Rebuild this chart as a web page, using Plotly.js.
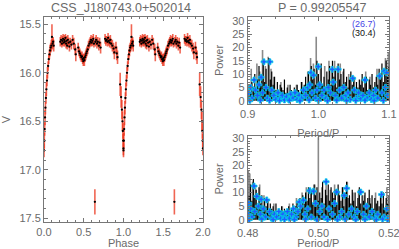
<!DOCTYPE html>
<html><head><meta charset="utf-8">
<script src="https://cdn.plot.ly/plotly-3.0.1.min.js"></script>
<style>html,body{margin:0;padding:0;background:#fff}#c{width:399px;height:249px}</style>
</head><body><div id="c"></div>
<script>
// ---- light curve (phase 0-1), shown twice ----
const lcPhase = [0.000,0.004,0.008,0.013,0.018,0.024,0.030,0.037,0.044,0.052,0.060,0.068,0.076,0.084,0.092,0.100,0.108,0.115,0.122,
 0.205,0.215,0.225,0.232,0.240,0.248,0.255,0.262,0.270,0.278,0.285,0.292,0.300,0.310,0.320,0.330,0.345,0.360,0.375,0.392,0.400,
 0.430,0.440,0.450,0.460,0.470,0.478,0.486,0.494,0.500,0.508,0.516,0.524,0.532,0.540,0.550,0.560,
 0.572,0.582,0.592,0.600,0.610,0.620,0.628,0.640,0.646,0.656,0.666,0.676,0.690,0.700,0.712,
 0.768,0.778,0.788,0.798,0.806,0.815,0.825,0.835,0.845,0.860,0.875,0.885,0.905,0.915,0.925,
 0.958,0.970,0.980,0.987,0.992,0.996,0.999];
const lcMag = [16.80,16.70,16.58,16.46,16.36,16.26,16.17,16.08,16.00,15.93,15.86,15.81,15.77,15.74,15.72,15.63,15.70,15.68,15.72,
 15.68,15.66,15.70,15.67,15.65,15.69,15.66,15.68,15.64,15.70,15.67,15.72,15.66,15.69,15.73,15.68,15.71,15.66,15.70,15.76,15.81,
 15.74,15.78,15.80,15.82,15.84,15.83,15.86,15.88,15.85,15.87,15.84,15.82,15.80,15.78,15.76,15.72,
 15.70,15.68,15.66,15.69,15.67,15.65,15.70,17.33,15.68,15.66,15.70,15.68,15.72,15.69,15.74,
 15.65,15.67,15.66,15.68,15.64,15.67,15.69,15.66,15.70,15.72,15.75,15.79,15.74,15.80,15.84,
 16.12,16.25,16.38,16.50,16.60,16.70,16.78];
const lcErr = [0.07,0.08,0.07,0.08,0.07,0.06,0.07,0.06,0.06,0.05,0.05,0.05,0.06,0.05,0.06,0.13,0.05,0.05,0.06,
 0.05,0.05,0.04,0.05,0.05,0.04,0.05,0.05,0.04,0.05,0.05,0.04,0.05,0.05,0.05,0.04,0.05,0.05,0.06,0.06,0.07,
 0.05,0.05,0.05,0.05,0.05,0.05,0.05,0.05,0.05,0.06,0.05,0.05,0.05,0.05,0.05,0.05,
 0.05,0.05,0.05,0.04,0.05,0.05,0.04,0.13,0.05,0.05,0.05,0.05,0.05,0.05,0.06,
 0.05,0.05,0.04,0.05,0.05,0.05,0.05,0.05,0.05,0.06,0.06,0.07,0.06,0.07,0.07,
 0.12,0.11,0.10,0.10,0.08,0.07,0.07];

// ---- periodogram around P ----
const topX = [0.900,0.902,0.904,0.906,0.908,0.910,0.912,0.914,0.916,0.918,0.920,0.922,0.924,0.926,0.928,0.930,0.932,0.934,0.936,0.938,0.940,
 0.942,0.944,0.946,0.948,0.950,0.952,0.954,0.956,0.958,0.960,0.962,0.964,0.966,0.968,0.970,0.972,0.974,0.976,0.978,0.980,
 0.982,0.984,0.986,0.988,0.990,0.992,0.994,0.996,0.998,1.000,1.002,1.004,1.006,1.008,1.010,1.012,1.014,1.016,1.018,1.020,
 1.022,1.024,1.026,1.028,1.030,1.032,1.034,1.036,1.038,1.040,1.042,1.044,1.046,1.048,1.050,1.052,1.054,1.056,1.058,1.060,
 1.062,1.064,1.066,1.068,1.070,1.072,1.074,1.076,1.078,1.080,1.082,1.084,1.086,1.088,1.090,1.092,1.094,1.096,1.098,1.100];
const topPow = [4,6,3,7,5,10,4,8,13,6,9, 15,7,12,5,16,8,11,6,9,4, 7,3,6,5,4,8,3,5,2,6, 4,3,5,2,6,4,3,7,5,6,
 9,5,11,7,13,8,12,6,15,10, 7,14,6,9,5,11,8,13,6,15, 9,12,5,14,8,10,6,12,7,9, 5,8,11,6,9,4,7,5,8,6,
 10,5,7,9,4,8,6,10,5,7, 9,6,12,8,14,7,11,15,9,13,8];
const topGrayX = [0.905,0.913,0.917,0.921,0.925,0.929,0.933,0.937,0.947,0.957,0.969,0.977,0.985,0.989,0.993,0.997,1.003,1.009,1.015,1.019,1.023,1.027,1.031,1.035,1.043,1.051,1.061,1.067,1.073,1.083,1.089,1.095,1.099];
const topGrayPow = [12,14,11,19,13,16.5,12,9,7,6,6,7,11,16,14,24,12,13,15,12,15,13,14,11,10,9,8,11,9,12,10,16,18];
const topPkX = [0.909,0.919,0.923,0.9315,0.9896,0.993,0.9999,1.0197,1.028,1.0486,1.066,1.087,1.093,1.0967,
 0.901,0.904,0.906,0.911,0.914,0.916,0.921,0.926,0.928,0.934,0.937,0.940,0.943,0.946,0.949,0.952,0.955,0.958,0.961,0.964,0.967,0.970,0.973,0.976,0.979,0.982,0.985,0.988,0.991,0.996,0.998,
 1.002,1.005,1.008,1.011,1.014,1.017,1.021,1.024,1.030,1.033,1.036,1.039,1.042,1.045,1.051,1.054,1.057,1.060,1.063,1.069,1.072,1.075,1.078,1.081,1.084,1.090,1.095,1.098,
 0.903,0.918,0.931,0.945,0.959,0.974,0.987,1.000,1.013,1.026,1.040,1.053,1.066,1.079,1.092];
const topPkPow = [7.8,8.8,14.6,14.6,10.5,9.6,12.8,11.8,11.8,8.4,7.8,9.3,11.1,10.5,
 3,5,1,4,2,6,3,5,1,4,2,0.5,3,1,2,0.3,1.5,0.5,2.5,1,3,0.5,2,1,4,2,5,6,3,1,4,
 6,2,4,1,5,3,7,2,4,1,5,2,3,0.5,4,1,3,0.8,2,1,3,0.5,2,4,1,3,5,2,
 0,0.2,0.1,0,0.2,0,0.3,0.1,0,0.2,0,0.1,0.2,0,0.1];

// ---- periodogram around P/2 ----
const botX = [0.4800,0.4804,0.4808,0.4812,0.4816,0.4820,0.4824,0.4828,0.4832,0.4836,0.4840,0.4844,0.4848,0.4852,0.4856,0.4860,0.4864,0.4868,0.4872,0.4876,0.4880,
 0.4884,0.4888,0.4892,0.4896,0.4900,0.4904,0.4908,0.4912,0.4916,0.4920,0.4924,0.4928,0.4932,0.4936,0.4940,0.4944,0.4948,0.4952,0.4956,0.4960,
 0.4964,0.4968,0.4972,0.4976,0.4980,0.4984,0.4988,0.4992,0.4996,0.5000,0.5004,0.5008,0.5012,0.5016,0.5020,0.5024,0.5028,0.5032,0.5036,0.5040,
 0.5044,0.5048,0.5052,0.5056,0.5060,0.5064,0.5068,0.5072,0.5076,0.5080,0.5084,0.5088,0.5092,0.5096,0.5100,0.5104,0.5108,0.5112,0.5116,0.5120,
 0.5124,0.5128,0.5132,0.5136,0.5140,0.5144,0.5148,0.5152,0.5156,0.5160,0.5164,0.5168,0.5172,0.5176,0.5180,0.5184,0.5188,0.5192,0.5196,0.5200];
const botPow = [6,9,13,7,15,8,11,5,12,6,9, 4,8,5,7,3,6,4,5,3,6, 2,4,3,5,2,4,3,2,5,3, 4,6,3,5,7,4,8,5,9,6,
 10,7,12,8,11,6,13,9,12,7,10, 8,14,6,11,9,13,7,12,10,8, 11,6,13,9,7,12,5,10,14,8, 9,6,11,7,10,5,8,12,6,9,
 7,10,5,8,11,6,9,4,8,6, 7,5,9,6,10,4,8,6,9,5,7];
const botGrayX = [0.4802,0.4806,0.4814,0.4822,0.4834,0.4846,0.4858,0.4874,0.4898,0.4918,0.4938,0.4954,0.4966,0.4978,0.4990,0.5000,0.5010,0.5022,0.5034,0.5046,0.5058,0.5070,0.5082,0.5098,0.5114,0.5130,0.5146,0.5162,0.5178,0.5194];
const botGrayPow = [18,17,14,12,13,9,7,6,5,6,8,10,12,11,13,30.4,12,14,11,13,10,12,14,10,11,9,8,10,9,12];
const botPkX = [0.4818,0.4826,0.4854,0.4976,0.4986,0.5022,0.5052,0.5073,0.5080,0.5120,0.5179,0.4803,0.4838,0.4946,0.4958,
 0.4801,0.4808,0.4812,0.4820,0.4830,0.4836,0.4844,0.4850,0.4862,0.4868,0.4876,0.4882,0.4888,0.4894,0.4900,0.4906,0.4912,0.4918,0.4924,0.4930,0.4936,0.4942,0.4950,0.4962,0.4970,0.4980,0.4992,
 0.5004,0.5010,0.5016,0.5030,0.5040,0.5046,0.5060,0.5066,0.5086,0.5094,0.5102,0.5110,0.5128,0.5136,0.5144,0.5152,0.5160,0.5168,0.5186,0.5194,0.5198,
 0.4804,0.4840,0.4872,0.4904,0.4932,0.4964,0.4996,0.5026,0.5054,0.5076,0.5106,0.5132,0.5164,0.5182,0.5196];
const botPkPow = [12.4,8.6,7.3,10.7,10.5,14.0,10.2,8.9,11.6,10.2,9.3,6,7.5,6.5,7.2,
 2,4,1,3,5,2,4,1,3,0.5,2,1,3,0.5,2,1,3,0.5,2,4,1,3,5,2,4,1,6,
 3,5,1,4,2,6,1,3,2,4,1,3,2,5,1,3,0.5,2,1,4,0.5,
 0,0.2,0,0.1,0,0.2,0,0.1,0,0.2,0,0.1,0,0.2,0];

const titleLeft = "CSS_J180743.0+502014";
const titleRight = "P = 0.99205547";
const legBlue = "(26.7)", legBlack = "(30.4)";
const phaseTicks = [0, 0.5, 1, 1.5, 2], phaseTickText = ["0.0","0.5","1.0","1.5","2.0"];
const topTicks = [0.9, 1.0, 1.1], topTickText = ["0.9","1.0","1.1"];
const botTicks = [0.48, 0.50, 0.52], botTickText = ["0.48","0.50","0.52"];

// helpers
function sticks(xs, ys){ const X=[],Y=[]; xs.forEach((x,i)=>{X.push(x,x,null);Y.push(0,ys[i],null);}); return {x:X,y:Y}; }
const ph2 = lcPhase.concat(lcPhase.map(p=>p+1));
const mag2 = lcMag.concat(lcMag);
const err2 = lcErr.concat(lcErr);

const FONT = "Liberation Sans, Arial, sans-serif";
const GREY = "#6a6a6a";
const traces = [
 {type:'scatter', mode:'markers', x:ph2, y:mag2, xaxis:'x', yaxis:'y',
  error_y:{type:'data', array:err2, visible:true, color:'rgba(235,50,25,0.75)', thickness:1.6, width:0},
  marker:{color:'#000', size:2.3}, hoverinfo:'none'},
];
function pg(xa, ya, gx, gp, bx, bp, kx, kp){
 const g = sticks(gx,gp), b = sticks(bx,bp);
 traces.push({type:'scatter', mode:'lines', x:g.x, y:g.y, xaxis:xa, yaxis:ya, line:{color:'#8a8a8a', width:1.6}, hoverinfo:'none'});
 traces.push({type:'scatter', mode:'lines', x:b.x, y:b.y, xaxis:xa, yaxis:ya, line:{color:'#000', width:1.2}, hoverinfo:'none'});
 traces.push({type:'scatter', mode:'markers', x:kx, y:kp, xaxis:xa, yaxis:ya,
  marker:{symbol:'cross', size:5, color:'rgb(30,90,255)', line:{color:'rgb(0,220,230)', width:0.7}}, hoverinfo:'none'});
}
pg('x2','y2', topGrayX, topGrayPow, topX, topPow, topPkX, topPkPow);
pg('x3','y3', botGrayX, botGrayPow, botX, botPow, botPkX, botPkPow);

const W=399, H=249;
const px = v=>v/W, py = v=>1-v/H;
function mn(d){ return {dtick:d, ticks:'inside', ticklen:2, tickcolor:'#777'}; }
function ax(o){ return Object.assign({showgrid:false, zeroline:false, showline:true, linecolor:'#777', linewidth:1, mirror:'allticks',
 ticks:'inside', ticklen:4, tickcolor:'#777', tickwidth:1, ticklabeloverflow:'allow', tickfont:{family:FONT, size:11, color:GREY}}, o); }
const layout = {
 width:W, height:H, margin:{l:0,r:0,t:0,b:0}, paper_bgcolor:'#fff', plot_bgcolor:'#fff', showlegend:false,
 font:{family:FONT, color:GREY},
 xaxis: ax({domain:[px(44),px(203)], range:[0,2], tickvals:phaseTicks, ticktext:phaseTickText, minor:mn(0.1),
   title:{text:'Phase', font:{family:FONT,size:11,color:GREY}, standoff:5}, anchor:'y'}),
 yaxis: ax({domain:[py(221.7),py(17.3)], range:[17.535,15.428], tick0:15.5, dtick:0.5, tickformat:'.1f', minor:mn(0.1),
   title:{text:'V', font:{family:FONT,size:11,color:GREY}, standoff:8}, anchor:'x'}),
 xaxis2: ax({domain:[px(247.7),px(389)], range:[0.9,1.1], tickvals:topTicks, ticktext:topTickText, minor:mn(0.02),
   title:{text:'Period/P', font:{family:FONT,size:11,color:GREY}, standoff:10}, anchor:'y2'}),
 yaxis2: ax({domain:[py(103.7),py(17.3)], range:[-1.1,31.3], tick0:0, dtick:5, minor:mn(1),
   title:{text:'Power', font:{family:FONT,size:11,color:GREY}, standoff:6}, anchor:'x2'}),
 xaxis3: ax({domain:[px(247.7),px(389)], range:[0.48,0.52], tickvals:botTicks, ticktext:botTickText, minor:mn(0.004),
   title:{text:'Period/P', font:{family:FONT,size:11,color:GREY}, standoff:5}, anchor:'y3'}),
 yaxis3: ax({domain:[py(222.3),py(135.7)], range:[-0.96,30.96], tick0:0, dtick:5, minor:mn(1),
   title:{text:'Power', font:{family:FONT,size:11,color:GREY}, standoff:6}, anchor:'x3'}),
 annotations:[
  {text:titleLeft, xref:'paper', yref:'paper', x:px(121), y:py(7.5), showarrow:false, xanchor:'center', yanchor:'middle', font:{family:FONT,size:12.5,color:GREY}},
  {text:titleRight, xref:'paper', yref:'paper', x:px(322), y:py(7.5), showarrow:false, xanchor:'center', yanchor:'middle', font:{family:FONT,size:12.5,color:GREY}},
  {text:legBlue, xref:'paper', yref:'paper', x:px(364), y:py(24), showarrow:false, xanchor:'center', yanchor:'middle', font:{family:FONT,size:9,color:'rgb(70,70,230)'}},
  {text:legBlack, xref:'paper', yref:'paper', x:px(364), y:py(33), showarrow:false, xanchor:'center', yanchor:'middle', font:{family:FONT,size:9,color:'#111'}}
 ]
};
Plotly.newPlot('c', traces, layout, {staticPlot:true, displayModeBar:false});
</script></body></html>
